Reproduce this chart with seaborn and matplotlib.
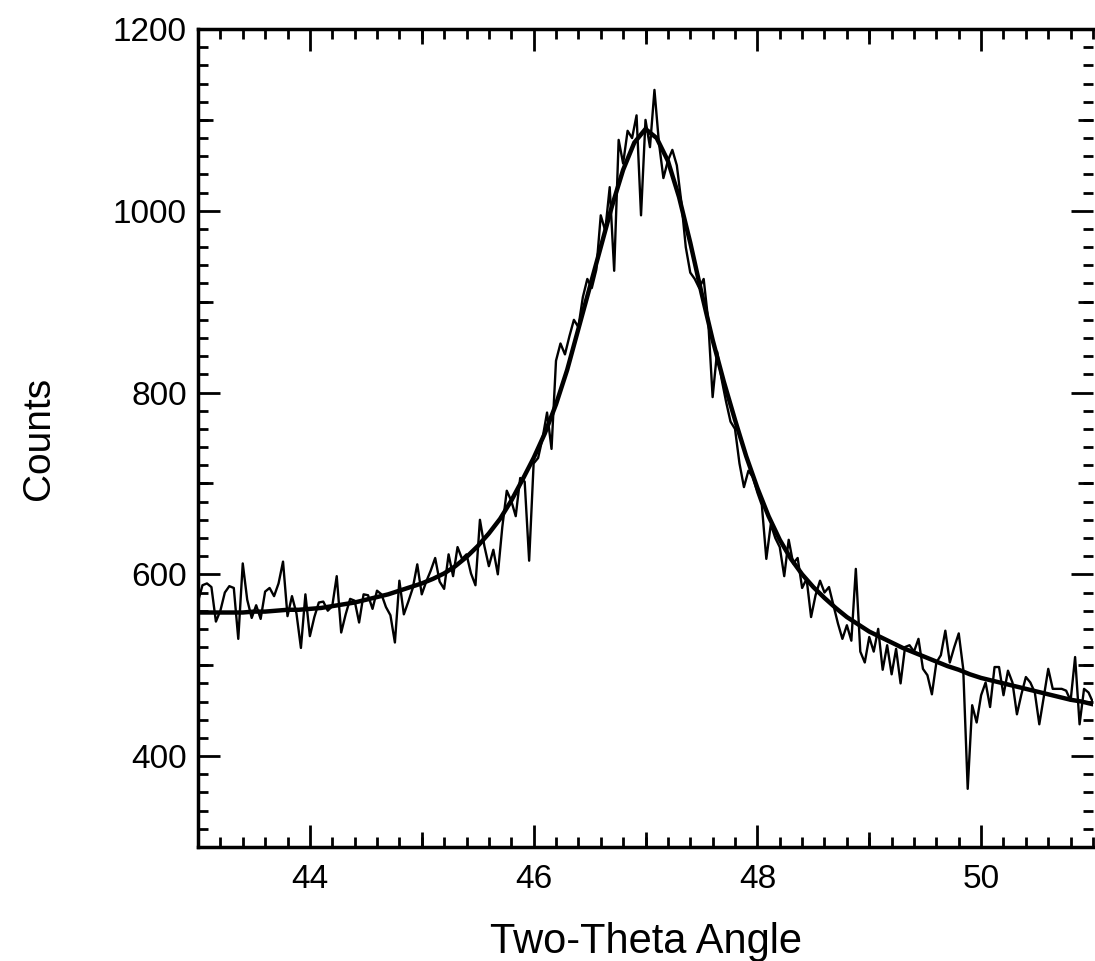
import numpy as np
import pandas as pd
import matplotlib
matplotlib.use("Agg")
import matplotlib.pyplot as plt
import seaborn as sns
from matplotlib.ticker import MultipleLocator, FixedLocator, NullFormatter

# measured counts, one point every 0.04 deg from 43.00 to 51.00
angulo_inicio = 43.0
paso_datos = 0.04
cuentas = [
    570, 588, 590, 586, 548, 560, 580, 587, 585, 529,
    612, 572, 552, 566, 551, 581, 585, 576, 590, 614,
    554, 576, 557, 519, 578, 532, 553, 569, 570, 560,
    565, 598, 536, 556, 573, 571, 547, 578, 577, 562,
    582, 578, 564, 555, 525, 593, 556, 570, 585, 611,
    578, 592, 604, 618, 592, 584, 622, 598, 630, 617,
    622, 601, 588, 660, 631, 609, 627, 600, 652, 692,
    681, 664, 706, 702, 615, 722, 728, 750, 778, 738,
    835, 854, 842, 862, 880, 872, 905, 925, 915, 935,
    995, 978, 1026, 934, 1078, 1052, 1088, 1080, 1105, 995,
    1100, 1070, 1133, 1075, 1036, 1055, 1067, 1050, 1010, 960,
    932, 925, 915, 925, 880, 795, 845, 815, 790, 768,
    760, 722, 696, 714, 707, 690, 676, 617, 655, 640,
    630, 598, 638, 612, 618, 585, 595, 553, 577, 593,
    580, 586, 566, 546, 529, 544, 527, 606, 515, 503,
    531, 515, 540, 495, 522, 490, 518, 480, 520, 522,
    515, 529, 496, 489, 468, 503, 511, 538, 503, 520,
    535, 496, 364, 456, 437, 467, 481, 454, 498, 498,
    467, 494, 481, 446, 468, 487, 481, 470, 435, 465,
    496, 474, 474, 474, 472, 461, 509, 435, 474, 470,
    459,
]

# fitted peak, one point every 0.1 deg from 43.0 to 51.0
paso_ajuste = 0.1
ajuste = [
    558, 558, 558, 558, 558, 559, 559, 560, 561, 561,
    562, 563, 565, 567, 569, 572, 575, 578, 582, 586,
    590, 595, 601, 609, 619, 631, 645, 661, 681, 704,
    728, 755, 787, 825, 870, 915, 960, 1005, 1045, 1075,
    1090, 1080, 1055, 1015, 965, 910, 858, 812, 770, 730,
    695, 664, 638, 617, 600, 586, 574, 563, 553, 545,
    537, 531, 525, 519, 514, 509, 504, 499, 495, 490,
    486, 483, 480, 477, 474, 471, 468, 465, 462, 460,
    457,
]

x_ticks = [44, 46, 48, 50]
y_ticks = [400, 600, 800, 1000, 1200]

datos = pd.DataFrame({"angulo": angulo_inicio + paso_datos * np.arange(len(cuentas)),
                      "cuentas": cuentas})
curva = pd.DataFrame({"angulo": angulo_inicio + paso_ajuste * np.arange(len(ajuste)),
                      "cuentas": ajuste})

sns.set_style("ticks")
plt.rcParams['font.family'] = ['Liberation Sans', 'DejaVu Sans']
plt.rcParams['text.color'] = 'black'
plt.rcParams['axes.labelcolor'] = 'black'
plt.rcParams['xtick.color'] = 'black'
plt.rcParams['ytick.color'] = 'black'

fig = plt.figure(figsize=(10.95, 9.61), dpi=100)
ax = fig.add_axes([198 / 1095, 1 - 847 / 961, (1093 - 198) / 1095, (847 - 29) / 961])

sns.lineplot(data=datos, x="angulo", y="cuentas", ax=ax, color="black",
             linewidth=1.7, estimator=None, sort=False)
sns.lineplot(data=curva, x="angulo", y="cuentas", ax=ax, color="black",
             linewidth=3.2, estimator=None, sort=False)

ax.set_xlim(43, 51)
ax.set_ylim(300, 1200)
ax.xaxis.set_major_locator(FixedLocator(x_ticks))
ax.xaxis.set_minor_locator(MultipleLocator(0.2))
ax.yaxis.set_major_locator(FixedLocator(y_ticks))
ax.yaxis.set_minor_locator(MultipleLocator(20))
ax.tick_params(which="both", direction="in", top=True, right=True,
               color="black", width=2)
ax.tick_params(which="major", length=16, labelsize=24)
ax.tick_params(axis="x", which="major", pad=12)
ax.tick_params(axis="y", which="major", pad=8)
ax.tick_params(which="minor", length=7)

# middle sized ticks at the odd degrees and every 100 counts
for lado in ["bottom", "top"]:
    sec = ax.secondary_xaxis(lado)
    sec.set_xticks([45, 47, 49])
    sec.xaxis.set_major_formatter(NullFormatter())
    sec.tick_params(direction="in", length=11, width=2, color="black")
    sec.spines[lado].set_visible(False)
for lado in ["left", "right"]:
    sec = ax.secondary_yaxis(lado)
    sec.set_yticks([500, 700, 900, 1100])
    sec.yaxis.set_major_formatter(NullFormatter())
    sec.tick_params(direction="in", length=11, width=2, color="black")
    sec.spines[lado].set_visible(False)

for lado in ["left", "bottom", "top"]:
    ax.spines[lado].set_linewidth(2.5)
    ax.spines[lado].set_color("black")
ax.spines["right"].set_visible(False)

ax.set_xlabel("Two-Theta Angle", fontsize=30, labelpad=20)
ax.set_ylabel("Counts", fontsize=28, labelpad=40)

fig.savefig("out.png", dpi=100)
